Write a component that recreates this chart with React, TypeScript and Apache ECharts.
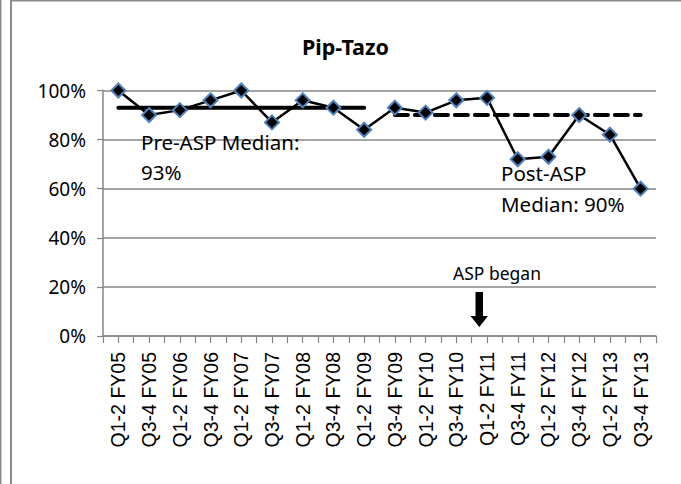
import React, { useEffect, useRef } from "react";
import * as echarts from "echarts";

const categories = [
  "Q1-2 FY05", "Q3-4 FY05", "Q1-2 FY06", "Q3-4 FY06", "Q1-2 FY07", "Q3-4 FY07",
  "Q1-2 FY08", "Q3-4 FY08", "Q1-2 FY09", "Q3-4 FY09", "Q1-2 FY10", "Q3-4 FY10",
  "Q1-2 FY11", "Q3-4 FY11", "Q1-2 FY12", "Q3-4 FY12", "Q1-2 FY13", "Q3-4 FY13",
];
const values = [100, 90, 92, 96, 100, 87, 96, 93, 84, 93, 91, 96, 97, 72, 73, 90, 82, 60];
const preMedian = 93;
const postMedian = 90;
const preCount = 9; // first 9 periods are pre-ASP
const yTicks = [0, 20, 40, 60, 80, 100];

const preSeries = categories.map((_, i) => (i < preCount ? preMedian : null));
const postSeries = categories.map((_, i) => (i >= preCount ? postMedian : null));

const GRID = "#868686";

export default function App() {
  const ref = useRef<HTMLDivElement>(null);
  useEffect(() => {
    if (!ref.current) return;
    const chart = echarts.init(ref.current, null, { renderer: "svg" });
    chart.setOption({
      animation: false,
      backgroundColor: "#ffffff",
      title: {
        text: "Pip-Tazo",
        left: 297,
        top: 30,
        textStyle: { fontFamily: "Noto Sans", fontWeight: "bold", fontSize: 21.5, color: "#000" },
      },
      grid: { left: 103, right: 25, top: 90.5, bottom: 148, containLabel: false },
      xAxis: [
        {
          type: "category",
          data: categories,
          boundaryGap: true,
          axisLine: { lineStyle: { color: GRID, width: 1.5 } },
          axisTick: { show: true, interval: 0, length: 7, lineStyle: { color: GRID, width: 1.2 } },
          axisLabel: {
            interval: 0,
            rotate: 90,
            margin: 16,
            color: "#000",
            fontFamily: "Liberation Sans",
            fontSize: 19.5,
          },
        },
        {
          type: "category",
          data: categories,
          position: "bottom",
          boundaryGap: true,
          axisLine: { show: false },
          axisTick: { show: true, interval: 0, alignWithLabel: true, length: 7, lineStyle: { color: GRID, width: 1.2 } },
          axisLabel: { show: false },
        },
      ],
      yAxis: {
        type: "value",
        min: 0,
        max: 100,
        interval: 20,
        axisLine: { show: true, lineStyle: { color: GRID, width: 1.5 } },
        axisTick: { show: true, length: 6, lineStyle: { color: GRID, width: 1.2 } },
        splitLine: { show: true, lineStyle: { color: GRID, width: 1.5 } },
        axisLabel: {
          margin: 17,
          color: "#000",
          fontFamily: "Noto Sans",
          fontSize: 19,
          formatter: (v: number) => (yTicks.includes(v) ? v + "%" : ""),
        },
      },
      series: [
        {
          name: "Pre-ASP Median",
          type: "line",
          data: preSeries,
          showSymbol: false,
          symbol: "none",
          connectNulls: false,
          lineStyle: { color: "#000", width: 4, cap: "round" },
          z: 2,
        },
        {
          name: "Post-ASP Median",
          type: "line",
          data: postSeries,
          showSymbol: false,
          symbol: "none",
          connectNulls: false,
          lineStyle: { color: "#000", width: 4, type: [13, 7], cap: "round" },
          z: 2,
        },
        {
          name: "Pip-Tazo",
          type: "line",
          data: values,
          symbol: "diamond",
          symbolSize: 14,
          lineStyle: { color: "#000", width: 2.5 },
          itemStyle: { color: "#000", borderColor: "#4f81bd", borderWidth: 2 },
          z: 3,
        },
      ],
      graphic: [
        { type: "rect", shape: { x: 0, y: 0, width: 1.5, height: 484 }, style: { fill: "#8c8c8c" } },
        { type: "rect", shape: { x: 10, y: 0, width: 2, height: 484 }, style: { fill: "#8c8c8c" } },
        { type: "rect", shape: { x: 10, y: 0, width: 671, height: 1.5 }, style: { fill: "#8c8c8c" } },
        {
          type: "text",
          style: {
            text: "Pre-ASP Median:\n93%",
            x: 141,
            y: 127,
            fontFamily: "Noto Sans",
            fontSize: 20.5,
            lineHeight: 30,
            fill: "#000",
          },
          z: 10,
        },
        {
          type: "text",
          style: {
            text: "Post-ASP\nMedian: 90%",
            x: 501,
            y: 157,
            fontFamily: "Noto Sans",
            fontSize: 20.5,
            lineHeight: 31,
            fill: "#000",
          },
          z: 10,
        },
        {
          type: "text",
          style: {
            text: "ASP began",
            x: 453,
            y: 264,
            fontFamily: "Noto Sans",
            fontSize: 17.5,
            fill: "#000",
          },
          z: 10,
        },
        {
          type: "polygon",
          shape: {
            points: [
              [475.5, 292], [483, 292], [483, 316], [488, 316],
              [479.3, 327], [470.5, 316], [475.5, 316],
            ],
          },
          style: { fill: "#000" },
          z: 10,
        },
      ],
    });
    return () => chart.dispose();
  }, []);
  return (
    <div
      ref={ref}
      style={{ position: "absolute", left: 0, top: 0, width: 681, height: 484 }}
    />
  );
}
